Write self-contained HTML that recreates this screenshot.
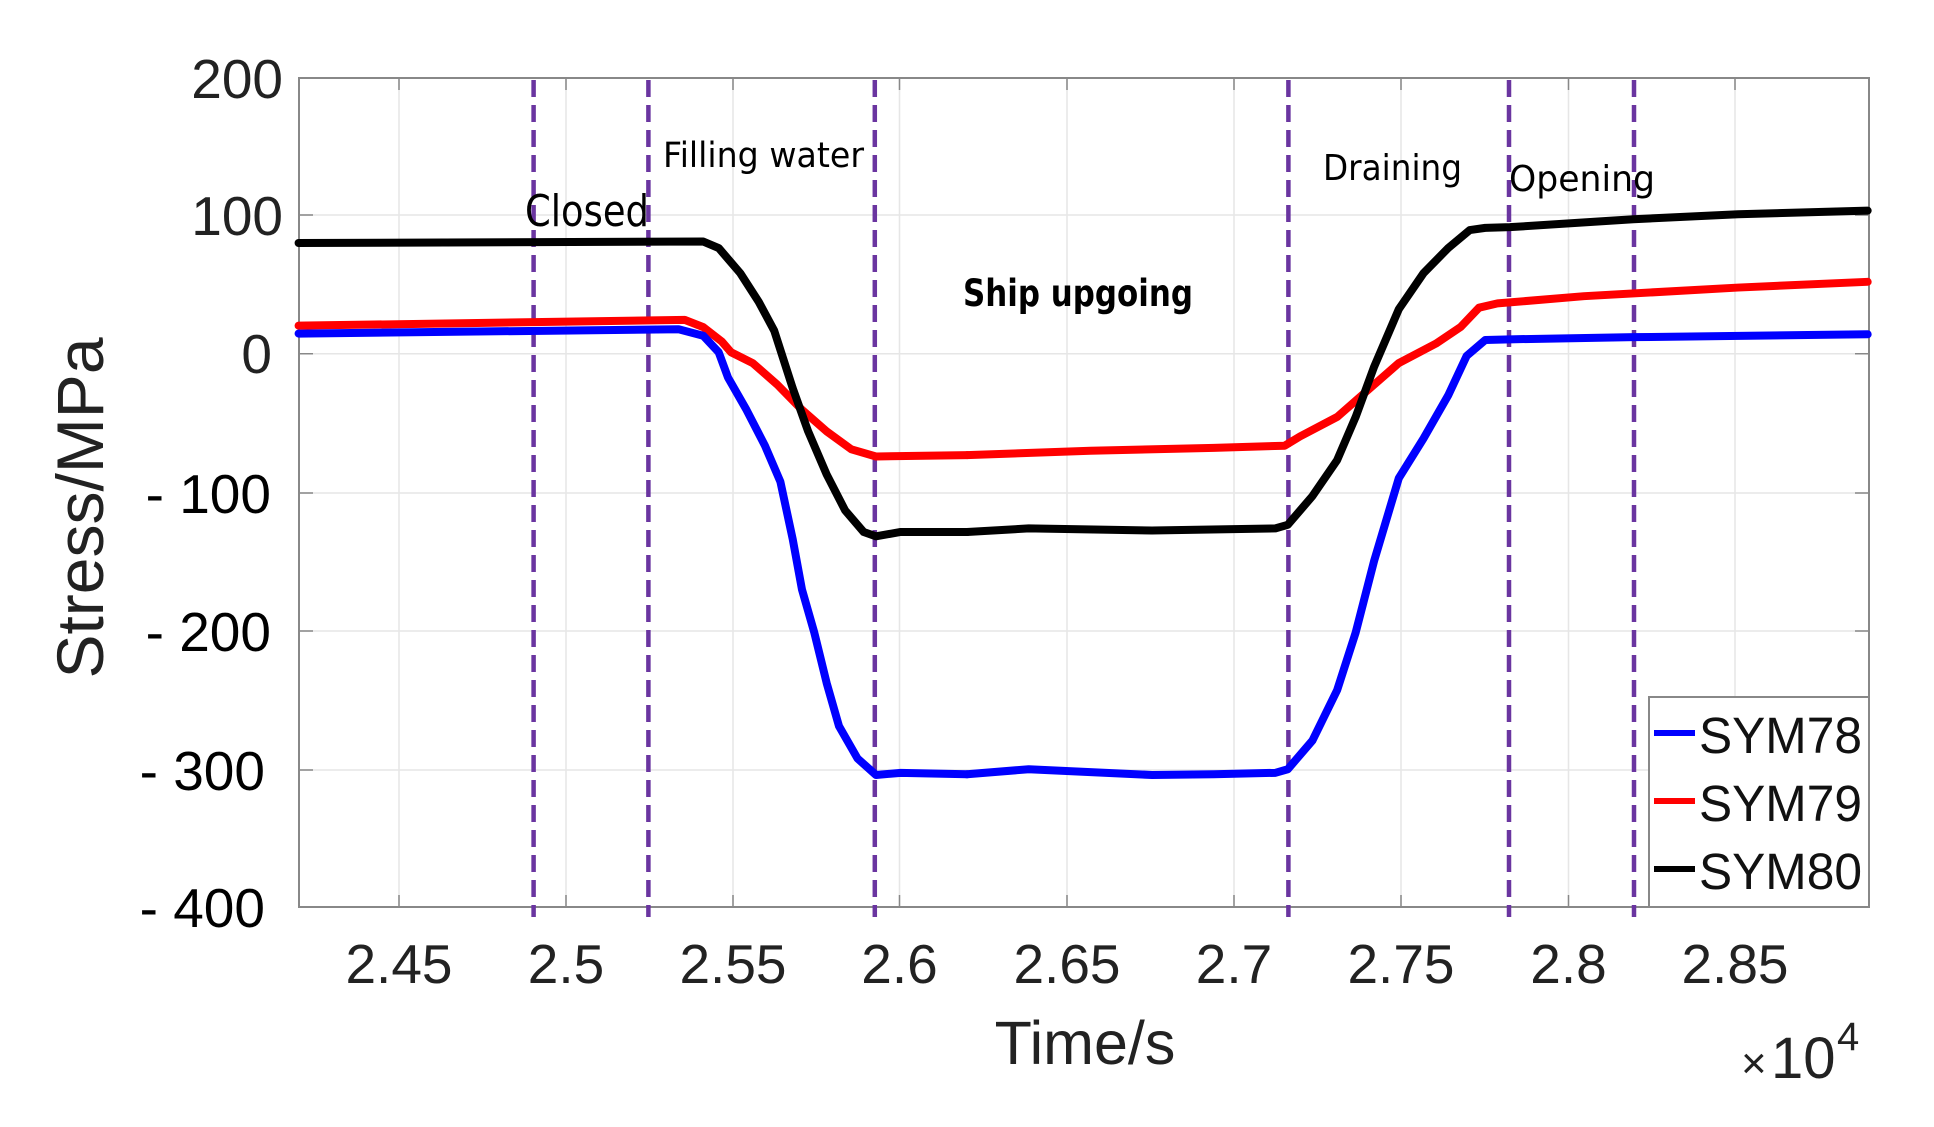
<!DOCTYPE html>
<html><head><meta charset="utf-8"><style>
html,body{margin:0;padding:0;background:#fff;}
svg{display:block;}
</style></head><body>
<svg width="1934" height="1127" viewBox="0 0 1934 1127" xmlns="http://www.w3.org/2000/svg">
<rect width="1934" height="1127" fill="#fff"/>
<g stroke="#e6e6e6" stroke-width="1.5">
<line x1="399" y1="78" x2="399" y2="907"/><line x1="566" y1="78" x2="566" y2="907"/>
<line x1="733" y1="78" x2="733" y2="907"/><line x1="899.5" y1="78" x2="899.5" y2="907"/>
<line x1="1067" y1="78" x2="1067" y2="907"/><line x1="1234" y1="78" x2="1234" y2="907"/>
<line x1="1401" y1="78" x2="1401" y2="907"/><line x1="1568.5" y1="78" x2="1568.5" y2="907"/>
<line x1="1735" y1="78" x2="1735" y2="907"/>
<line x1="299" y1="215" x2="1869" y2="215"/><line x1="299" y1="353.7" x2="1869" y2="353.7"/>
<line x1="299" y1="493" x2="1869" y2="493"/><line x1="299" y1="631" x2="1869" y2="631"/>
<line x1="299" y1="770" x2="1869" y2="770"/>
</g>
<g stroke="#888" stroke-width="1.5">
<path d="M399 78v12M566 78v12M733 78v12M899.5 78v12M1067 78v12M1234 78v12M1401 78v12M1568.5 78v12M1735 78v12"/>
<path d="M399 907v-12M566 907v-12M733 907v-12M899.5 907v-12M1067 907v-12M1234 907v-12M1401 907v-12M1568.5 907v-12M1735 907v-12"/>
<path d="M299 215h14M299 353.7h14M299 493h14M299 631h14M299 770h14M1869 215h-14M1869 353.7h-14M1869 493h-14M1869 631h-14M1869 770h-14"/>
</g>
<rect x="299" y="78" width="1570" height="829" fill="none" stroke="#888" stroke-width="2"/>
<g stroke="#6a35a0" stroke-width="4.5" stroke-dasharray="17,8">
<line x1="533.6" y1="80" x2="533.6" y2="917"/><line x1="648.4" y1="80" x2="648.4" y2="917"/>
<line x1="874.8" y1="80" x2="874.8" y2="917"/><line x1="1288.4" y1="80" x2="1288.4" y2="917"/>
<line x1="1509" y1="80" x2="1509" y2="917"/><line x1="1634" y1="80" x2="1634" y2="917"/>
</g>
<g fill="none" stroke-width="8" stroke-linejoin="round" stroke-linecap="round">
<g transform="scale(0.61690,0.71891)">
<polyline stroke="#ff0000" vector-effect="non-scaling-stroke" points="484,453 1110,445 1140,455 1170,475 1185,490 1220,505 1260,535 1300,570 1340,600 1380,625 1420,635 1568,633"/>
<polyline stroke="#0000ff" vector-effect="non-scaling-stroke" points="484,464 1100,458 1140,467 1165,490 1180,525 1210,570 1240,620 1265,670 1285,750 1300,820 1320,880 1340,950 1360,1010 1390,1055 1420,1078 1460,1075 1568,1077"/>
<polyline stroke="#000" vector-effect="non-scaling-stroke" points="484,338 1140,336 1165,345 1200,380 1230,420 1255,460 1285,540 1310,600 1340,660 1370,710 1400,740 1420,746 1460,740 1568,740"/>
</g>
<g transform="translate(967,0) scale(0.61690,0.71891)">
<polyline stroke="#ff0000" vector-effect="non-scaling-stroke" points="0,633 200,627 400,623 515,620 540,607 600,580 640,550 700,505 760,478 800,455 830,428 860,422 1000,412 1250,400 1460,392"/>
<polyline stroke="#0000ff" vector-effect="non-scaling-stroke" points="0,1077 100,1070 300,1078 400,1077 500,1075 520,1070 560,1030 600,960 630,880 660,780 700,665 740,610 780,550 810,495 840,473 880,472 1080,469 1460,465"/>
<polyline stroke="#000" vector-effect="non-scaling-stroke" points="0,740 100,735 300,738 500,735 520,730 560,690 600,640 630,580 660,510 700,430 740,380 780,345 815,320 840,317 880,316 1080,305 1250,298 1460,293"/>
</g>
</g>
<g font-family="'DejaVu Sans','Liberation Sans',sans-serif" fill="#000">
<text x="525" y="226" font-size="44" textLength="124" lengthAdjust="spacingAndGlyphs">Closed</text>
<text x="663" y="167" font-size="35" textLength="201" lengthAdjust="spacingAndGlyphs">Filling water</text>
<text x="963" y="306" font-size="37" font-weight="bold" textLength="230" lengthAdjust="spacingAndGlyphs">Ship upgoing</text>
<text x="1323" y="180" font-size="36" textLength="139" lengthAdjust="spacingAndGlyphs">Draining</text>
<text x="1509" y="191" font-size="36" textLength="146" lengthAdjust="spacingAndGlyphs">Opening</text>
</g>
<g font-family="'Liberation Sans',sans-serif" font-size="55" fill="#222">
<g text-anchor="end">
<text x="283" y="98">200</text><text x="283" y="235">100</text><text x="272" y="373">0</text>
<text x="271" y="513" fill="#000">- 100</text><text x="271" y="651" fill="#000">- 200</text><text x="265" y="790" fill="#000">- 300</text><text x="265" y="927" fill="#000">- 400</text>
</g>
<g text-anchor="middle">
<text x="399" y="983">2.45</text><text x="566" y="983">2.5</text><text x="733" y="983">2.55</text><text x="899.5" y="983">2.6</text>
<text x="1067" y="983">2.65</text><text x="1234" y="983">2.7</text><text x="1401" y="983">2.75</text><text x="1568.5" y="983">2.8</text><text x="1735" y="983">2.85</text>
</g>
</g>
<text x="1085" y="1064" font-family="'Liberation Sans',sans-serif" font-size="61" fill="#222" text-anchor="middle">Time/s</text>
<text transform="translate(103,508) rotate(-90)" font-family="'Liberation Sans',sans-serif" font-size="66" fill="#222" text-anchor="middle">Stress/MPa</text>
<text x="1741" y="1078" font-family="'Liberation Sans',sans-serif" font-size="44" fill="#222">×</text>
<text x="1771" y="1078" font-family="'Liberation Sans',sans-serif" font-size="58" fill="#222">10</text>
<text x="1837" y="1050" font-family="'Liberation Sans',sans-serif" font-size="40" fill="#222">4</text>
<rect x="1649" y="697" width="220" height="210" fill="#fff" stroke="#888" stroke-width="2"/>
<g stroke-width="6">
<line x1="1654" y1="733" x2="1695" y2="733" stroke="#0000ff"/>
<line x1="1654" y1="801" x2="1695" y2="801" stroke="#ff0000"/>
<line x1="1654" y1="869" x2="1695" y2="869" stroke="#000"/>
</g>
<g font-family="'Liberation Sans',sans-serif" font-size="51" fill="#111">
<text x="1699" y="753" textLength="163" lengthAdjust="spacingAndGlyphs">SYM78</text>
<text x="1699" y="821" textLength="163" lengthAdjust="spacingAndGlyphs">SYM79</text>
<text x="1699" y="889" textLength="163" lengthAdjust="spacingAndGlyphs">SYM80</text>
</g>
</svg>
</body></html>
